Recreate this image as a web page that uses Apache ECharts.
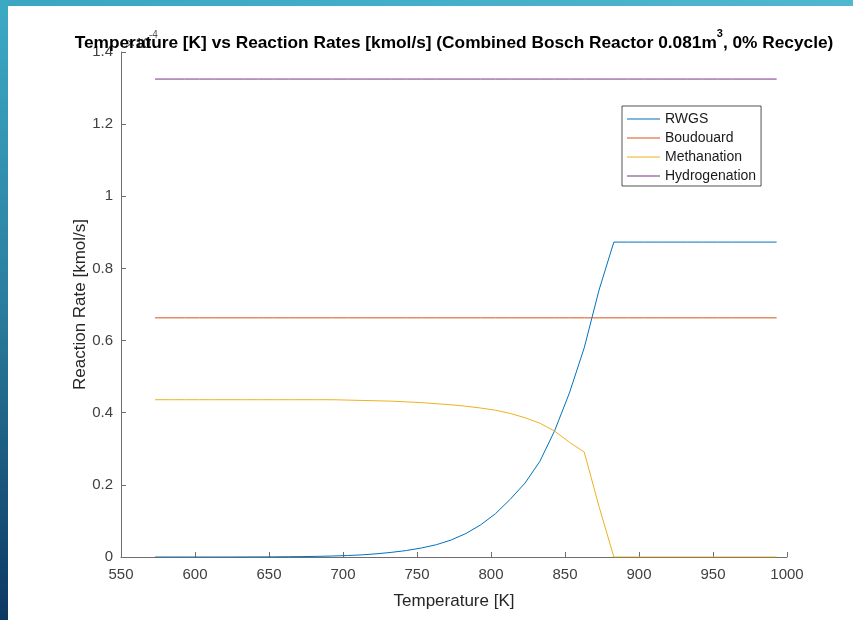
<!DOCTYPE html>
<html>
<head>
<meta charset="utf-8">
<script src="https://cdn.jsdelivr.net/npm/echarts@6/dist/echarts.min.js"></script>
<style>
html,body{margin:0;padding:0;background:#fff;}
#chart{width:853px;height:620px;}
</style>
</head>
<body>
<div id="chart"></div>
<script>
// Temperature [K]
const temperatures = [573,583,593,603,613,623,633,643,653,663,673,683,693,703,713,723,733,743,753,763,773,783,793,803,813,823,833,843,853,863,873,883,893,903,913,923,933,943,953,963,973,983,993];
// Reaction rates, displayed in units of 1e-4 kmol/s
const rwgs = [0,0,0,0,0,0,0.0002,0.0003,0.0005,0.0008,0.0012,0.0018,0.0027,0.004,0.006,0.009,0.013,0.018,0.025,0.034,0.047,0.065,0.089,0.12,0.16,0.205,0.265,0.35,0.455,0.58,0.74,0.873,0.873,0.873,0.873,0.873,0.873,0.873,0.873,0.873,0.873,0.873,0.873];
const boudouard = [0.663,0.663,0.663,0.663,0.663,0.663,0.663,0.663,0.663,0.663,0.663,0.663,0.663,0.663,0.663,0.663,0.663,0.663,0.663,0.663,0.663,0.663,0.663,0.663,0.663,0.663,0.663,0.663,0.663,0.663,0.663,0.663,0.663,0.663,0.663,0.663,0.663,0.663,0.663,0.663,0.663,0.663,0.663];
const methanation = [0.436,0.436,0.436,0.436,0.436,0.436,0.436,0.436,0.436,0.436,0.436,0.436,0.436,0.435,0.434,0.433,0.432,0.430,0.428,0.425,0.422,0.418,0.413,0.407,0.398,0.386,0.371,0.349,0.318,0.291,0.140,0,0,0,0,0,0,0,0,0,0,0,0];
const hydrogenation = [1.325,1.325,1.325,1.325,1.325,1.325,1.325,1.325,1.325,1.325,1.325,1.325,1.325,1.325,1.325,1.325,1.325,1.325,1.325,1.325,1.325,1.325,1.325,1.325,1.325,1.325,1.325,1.325,1.325,1.325,1.325,1.325,1.325,1.325,1.325,1.325,1.325,1.325,1.325,1.325,1.325,1.325,1.325];
const seriesNames = ['RWGS','Boudouard','Methanation','Hydrogenation'];
const seriesColors = ['#0072BD','#D95319','#EDB120','#7E2F8E'];
const xTicks = {min:550, max:1000, interval:50};
const yTicks = {min:0, max:1.4, interval:0.2};

const FONT = 'Liberation Sans, Arial, Helvetica, sans-serif';
const seriesValues = [rwgs, boudouard, methanation, hydrogenation];
const chart = echarts.init(document.getElementById('chart'), null, {renderer:'canvas'});
const axisCol = '#262626';

chart.setOption({
  animation:false,
  backgroundColor:'#ffffff',
  textStyle:{fontFamily:FONT},
  graphic:[
    {type:'rect', z:100, shape:{x:0,y:0,width:853,height:6},
     style:{fill:new echarts.graphic.LinearGradient(0,0,1,0,[{offset:0,color:'#3aa6c2'},{offset:1,color:'#4fb8cf'}])}},
    {type:'rect', z:100, shape:{x:0,y:0,width:8,height:620},
     style:{fill:new echarts.graphic.LinearGradient(0,0,0,1,[{offset:0,color:'#3caac5'},{offset:0.5,color:'#2a7c9c'},{offset:1,color:'#0d3862'}])}},
    {type:'text', z:1, left:127, top:37,
     style:{text:'×10', font:'14px '+FONT, fill:'#555'}},
    {type:'text', z:1, left:149, top:30,
     style:{text:'-4', font:'10px '+FONT, fill:'#555'}}
  ],
  title:{
    text:'Temperature [K] vs Reaction Rates [kmol/s] (Combined Bosch Reactor 0.081m{sup|3}, 0% Recycle)',
    left:454, top:28, padding:0, textAlign:'center', z:10,
    textStyle:{fontFamily:FONT, fontSize:17.3, fontWeight:'bold', color:'#000', lineHeight:30,
      rich:{sup:{fontFamily:FONT, fontSize:11, fontWeight:'bold', color:'#000', lineHeight:10, verticalAlign:'top'}}}
  },
  legend:{
    orient:'vertical', left:622, top:106,
    padding:[5,5,2,5], itemGap:3, itemWidth:33, itemHeight:1.2, icon:'rect',
    borderColor:axisCol, borderWidth:0.8, backgroundColor:'#fff',
    textStyle:{fontFamily:FONT, fontSize:14, color:'#1a1a1a', lineHeight:16},
    data:seriesNames
  },
  grid:{left:121, right:66, top:52, bottom:63, containLabel:false},
  xAxis:{
    type:'value', min:xTicks.min, max:xTicks.max, interval:xTicks.interval,
    name:'Temperature [K]', nameLocation:'middle', nameGap:36, nameMoveOverlap:false,
    nameTextStyle:{fontFamily:FONT, fontSize:17, color:axisCol},
    axisLine:{show:true, onZero:false, lineStyle:{color:'#6e6e6e', width:1}},
    axisTick:{show:true, inside:true, length:5, lineStyle:{color:'#6e6e6e'}},
    axisLabel:{fontFamily:FONT, fontSize:15, color:'#404040', margin:10, formatter:v=>String(v)},
    splitLine:{show:false}
  },
  yAxis:{
    type:'value', min:yTicks.min, max:yTicks.max, interval:yTicks.interval,
    name:'Reaction Rate [kmol/s]', nameLocation:'middle', nameGap:32, nameRotate:90, nameMoveOverlap:false,
    nameTextStyle:{fontFamily:FONT, fontSize:17, color:axisCol},
    axisLine:{show:true, onZero:false, lineStyle:{color:'#6e6e6e', width:1}},
    axisTick:{show:true, inside:true, length:5, lineStyle:{color:'#6e6e6e'}},
    axisLabel:{fontFamily:FONT, fontSize:15, color:'#404040', margin:8},
    splitLine:{show:false}
  },
  series: seriesNames.map((n,i)=>({
    name:n, type:'line', symbol:'none', smooth:false,
    color:seriesColors[i],
    lineStyle:{width:1, color:seriesColors[i]},
    data: temperatures.map((t,j)=>[t, seriesValues[i][j]])
  }))
});
</script>
</body>
</html>
